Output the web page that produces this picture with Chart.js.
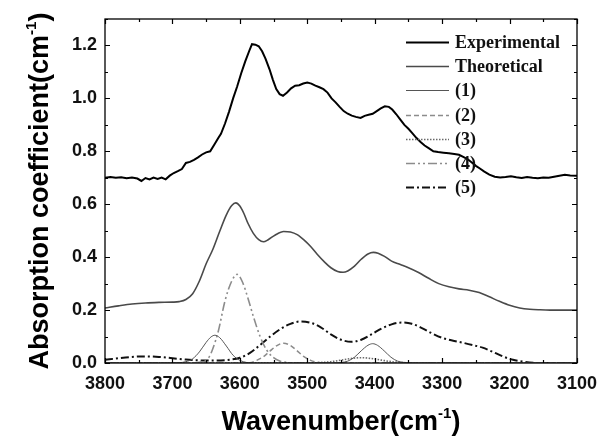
<!DOCTYPE html>
<html>
<head>
<meta charset="utf-8">
<script src="https://cdn.jsdelivr.net/npm/chart.js@4.4.1/dist/chart.umd.min.js"></script>
<style>
  html, body { margin: 0; padding: 0; background: #fff; }
</style>
</head>
<body>
<canvas id="irCanvas" width="612" height="436"></canvas>
<script>
// values (wavenumber in cm-1, absorption coefficient in cm-1)
const expWn = [3800, 3792, 3784, 3776, 3768, 3760, 3752, 3746, 3740, 3734, 3728, 3722, 3716, 3710, 3704, 3698,
  3692, 3686, 3680, 3674, 3668, 3662, 3656, 3650, 3644, 3638, 3632, 3628, 3622, 3616, 3610, 3604, 3598, 3592,
  3586, 3582, 3577, 3572, 3567, 3562, 3556, 3551, 3546, 3541, 3536, 3530, 3524, 3518, 3512, 3506, 3500, 3494,
  3488, 3482, 3476, 3470, 3464, 3458, 3452, 3446, 3440, 3434, 3428, 3421, 3415, 3409, 3403, 3397, 3391, 3385,
  3379, 3374, 3368, 3362, 3356, 3350, 3344, 3338, 3332, 3326, 3320, 3313, 3306, 3298, 3290, 3282, 3275, 3268,
  3262, 3256, 3250, 3244, 3238, 3230, 3222, 3214, 3206, 3198, 3190, 3182, 3174, 3166, 3158, 3150, 3142, 3134,
  3126, 3118, 3110, 3100];
const expAbs = [0.700, 0.703, 0.700, 0.702, 0.698, 0.701, 0.697, 0.688, 0.699, 0.694, 0.701, 0.696, 0.701, 0.694, 0.708, 0.718,
  0.725, 0.733, 0.756, 0.760, 0.768, 0.777, 0.788, 0.796, 0.800, 0.825, 0.850, 0.866, 0.905, 0.950, 1.000, 1.045, 1.095, 1.140,
  1.180, 1.205, 1.203, 1.197, 1.178, 1.150, 1.110, 1.070, 1.035, 1.016, 1.010, 1.022, 1.038, 1.048, 1.050, 1.056, 1.060, 1.056,
  1.048, 1.042, 1.035, 1.022, 1.000, 0.985, 0.968, 0.952, 0.942, 0.935, 0.930, 0.926, 0.934, 0.938, 0.942, 0.952, 0.962, 0.970,
  0.968, 0.958, 0.940, 0.920, 0.900, 0.885, 0.868, 0.850, 0.835, 0.822, 0.812, 0.800, 0.797, 0.795, 0.793, 0.790, 0.787, 0.778,
  0.770, 0.758, 0.745, 0.735, 0.724, 0.712, 0.704, 0.701, 0.703, 0.706, 0.702, 0.699, 0.703, 0.700, 0.698, 0.701, 0.700, 0.704,
  0.708, 0.711, 0.709, 0.708];

const theoWn = [3800, 3780, 3760, 3740, 3720, 3700, 3690, 3680, 3670, 3660, 3650, 3640, 3630, 3620, 3612, 3606,
  3600, 3594, 3588, 3580, 3572, 3565, 3558, 3548, 3535, 3525, 3515, 3505, 3495, 3485, 3475, 3465, 3455, 3447,
  3440, 3430, 3420, 3410, 3402, 3395, 3385, 3375, 3362, 3350, 3335, 3320, 3305, 3290, 3275, 3260, 3245, 3230,
  3215, 3200, 3185, 3170, 3155, 3140, 3120, 3100];
const theoAbs = [0.208, 0.216, 0.223, 0.227, 0.229, 0.230, 0.232, 0.240, 0.262, 0.310, 0.375, 0.430, 0.497, 0.560, 0.595, 0.605,
  0.593, 0.565, 0.528, 0.490, 0.466, 0.458, 0.466, 0.483, 0.497, 0.495, 0.485, 0.465, 0.440, 0.410, 0.383, 0.360, 0.346, 0.343,
  0.348, 0.366, 0.392, 0.412, 0.418, 0.415, 0.402, 0.385, 0.372, 0.360, 0.342, 0.320, 0.300, 0.288, 0.280, 0.275, 0.266, 0.250,
  0.233, 0.218, 0.208, 0.203, 0.201, 0.200, 0.200, 0.200];

const c1Wn = [3800, 3700, 3690, 3680, 3670, 3660, 3650, 3643, 3637, 3630, 3620, 3610, 3600, 3590, 3580,
  3460, 3450, 3440, 3430, 3420, 3410, 3403, 3396, 3386, 3376, 3366, 3356, 3345, 3100];
const c1Abs = [0, 0, 0.001, 0.005, 0.016, 0.042, 0.078, 0.098, 0.105, 0.096, 0.064, 0.029, 0.010, 0.002, 0,
  0, 0.002, 0.007, 0.022, 0.046, 0.067, 0.073, 0.067, 0.046, 0.022, 0.007, 0.002, 0, 0];

const c2Wn = [3800, 3590, 3585, 3575, 3565, 3555, 3545, 3535, 3525, 3515, 3505, 3495, 3485, 3475, 3100];
const c2Abs = [0, 0, 0.001, 0.010, 0.024, 0.046, 0.066, 0.075, 0.066, 0.046, 0.024, 0.010, 0.003, 0, 0];

const c3Wn = [3800, 3500, 3480, 3465, 3450, 3435, 3420, 3405, 3390, 3375, 3360, 3340, 3100];
const c3Abs = [0, 0, 0.002, 0.005, 0.011, 0.017, 0.020, 0.017, 0.011, 0.005, 0.002, 0, 0];

const c4Wn = [3800, 3670, 3660, 3650, 3645, 3640, 3632, 3622, 3612, 3604, 3596, 3588, 3580, 3570, 3560, 3550, 3540, 3530, 3520, 3100];
const c4Abs = [0, 0, 0.003, 0.012, 0.025, 0.055, 0.120, 0.235, 0.310, 0.335, 0.305, 0.245, 0.176, 0.100, 0.048, 0.020, 0.007, 0.002, 0, 0];

const c5Wn = [3800, 3780, 3760, 3740, 3720, 3700, 3680, 3660, 3640, 3620, 3600, 3585, 3570, 3555, 3540, 3525, 3510, 3495,
  3480, 3465, 3450, 3435, 3420, 3405, 3390, 3375, 3360, 3345, 3330, 3315, 3300, 3285, 3270, 3255, 3240, 3225, 3210,
  3195, 3180, 3165, 3150, 3100];
const c5Abs = [0.012, 0.018, 0.023, 0.025, 0.023, 0.018, 0.013, 0.010, 0.009, 0.011, 0.020, 0.038, 0.068, 0.100, 0.128, 0.148, 0.157, 0.152,
  0.135, 0.108, 0.088, 0.080, 0.088, 0.108, 0.130, 0.146, 0.153, 0.148, 0.132, 0.112, 0.095, 0.085, 0.077, 0.068, 0.058, 0.042, 0.025,
  0.012, 0.005, 0.001, 0, 0];

const seriesLabels = ["Experimental", "Theoretical", "(1)", "(2)", "(3)", "(4)", "(5)"];

const toPoints = (xs, ys) => xs.map((x, i) => ({ x: x, y: ys[i] }));
const sans = '"Liberation Sans", Arial, sans-serif';

// frame with inward ticks on all four sides
const framePlugin = {
  id: "frame",
  afterDatasetsDraw(chart) {
    const { ctx, chartArea: a, scales } = chart;
    ctx.save();
    ctx.strokeStyle = "#000";
    ctx.lineWidth = 1.3;
    ctx.strokeRect(a.left, a.top, a.right - a.left, a.bottom - a.top);
    ctx.lineWidth = 1.2;
    ctx.beginPath();
    for (let w = 3100; w <= 3800; w += 50) {
      const px = Math.round(scales.x.getPixelForValue(w)) + 0.5;
      const len = w % 100 === 0 ? 5 : 3;
      ctx.moveTo(px, a.bottom); ctx.lineTo(px, a.bottom - len);
      ctx.moveTo(px, a.top); ctx.lineTo(px, a.top + len);
    }
    for (let k = 0; k <= 13; k++) {
      const py = Math.round(scales.y.getPixelForValue(k / 10)) + 0.5;
      const len = k % 2 === 0 ? 5 : 3;
      ctx.moveTo(a.left, py); ctx.lineTo(a.left + len, py);
      ctx.moveTo(a.right, py); ctx.lineTo(a.right - len, py);
    }
    ctx.stroke();
    ctx.restore();
  }
};

// legend inside the plot, top right
const legendPlugin = {
  id: "insideLegend",
  afterDraw(chart) {
    const ctx = chart.ctx;
    const rows = [42, 66, 90, 115, 139, 163, 187];
    ctx.save();
    ctx.font = 'bold 18px "Liberation Serif", "Times New Roman", serif';
    ctx.textBaseline = "middle";
    ctx.fillStyle = "#111";
    chart.data.datasets.forEach((ds, i) => {
      const y = rows[i] + 0.5;
      ctx.strokeStyle = ds.borderColor;
      ctx.lineWidth = ds.borderWidth;
      ctx.setLineDash(ds.borderDash || []);
      ctx.beginPath();
      ctx.moveTo(406, y); ctx.lineTo(449, y);
      ctx.stroke();
      ctx.fillText(ds.label, 455, rows[i] + 1);
    });
    ctx.restore();
  }
};

function supTitle(ctx, x, y, rotate) {
  const main = "bold 27px " + sans, small = "bold 15px " + sans;
  ctx.save();
  ctx.translate(x, y);
  if (rotate) ctx.rotate(-Math.PI / 2);
  ctx.fillStyle = "#000";
  ctx.textBaseline = "alphabetic";
  const base = rotate ? "Absorption coefficient(cm" : "Wavenumber(cm";
  ctx.font = main;
  const w1 = ctx.measureText(base).width, w3 = ctx.measureText(")").width;
  ctx.font = small;
  const w2 = ctx.measureText("-1").width;
  const start = -(w1 + w2 + w3) / 2;
  ctx.font = main;
  ctx.fillText(base, start, 0);
  ctx.fillText(")", start + w1 + w2, 0);
  ctx.font = small;
  ctx.fillText("-1", start + w1, -12);
  ctx.restore();
}

const titlePlugin = {
  id: "axisTitles",
  afterDraw(chart) {
    const a = chart.chartArea;
    supTitle(chart.ctx, (a.left + a.right) / 2, 430, false);
    supTitle(chart.ctx, 48, (a.top + a.bottom) / 2, true);
  }
};

const irChart = new Chart(document.getElementById("irCanvas"), {
  type: "line",
  data: {
    datasets: [
      { label: seriesLabels[0], data: toPoints(expWn, expAbs), borderColor: "#000", borderWidth: 2, tension: 0 },
      { label: seriesLabels[1], data: toPoints(theoWn, theoAbs), borderColor: "#4a4a4a", borderWidth: 1.6, cubicInterpolationMode: "monotone" },
      { label: seriesLabels[2], data: toPoints(c1Wn, c1Abs), borderColor: "#555", borderWidth: 1, cubicInterpolationMode: "monotone" },
      { label: seriesLabels[3], data: toPoints(c2Wn, c2Abs), borderColor: "#8c8c8c", borderWidth: 1.5, borderDash: [5, 3], cubicInterpolationMode: "monotone" },
      { label: seriesLabels[4], data: toPoints(c3Wn, c3Abs), borderColor: "#6a6a6a", borderWidth: 1.6, borderDash: [1.5, 1.5], cubicInterpolationMode: "monotone" },
      { label: seriesLabels[5], data: toPoints(c4Wn, c4Abs), borderColor: "#8c8c8c", borderWidth: 1.6, borderDash: [9, 3, 2, 3, 2, 3], cubicInterpolationMode: "monotone" },
      { label: seriesLabels[6], data: toPoints(c5Wn, c5Abs), borderColor: "#111", borderWidth: 2, borderDash: [8, 3, 2, 3], cubicInterpolationMode: "monotone" }
    ]
  },
  options: {
    responsive: false,
    animation: false,
    elements: { point: { radius: 0 } },
    layout: { padding: { top: 19, right: 35, left: 0, bottom: 0 } },
    plugins: { legend: { display: false }, tooltip: { enabled: false } },
    scales: {
      x: {
        type: "linear",
        reverse: true,
        min: 3100,
        max: 3800,
        grid: { display: false, drawTicks: false },
        border: { display: false },
        ticks: {
          stepSize: 100,
          autoSkip: false,
          maxRotation: 0,
          padding: 10,
          color: "#111",
          font: { family: sans, weight: "bold", size: 18 },
          callback: v => String(v)
        },
        afterFit: s => { s.height = 73; }
      },
      y: {
        min: 0,
        max: 1.3,
        grid: { display: false, drawTicks: false },
        border: { display: false },
        ticks: {
          stepSize: 0.2,
          includeBounds: false,
          padding: 8,
          color: "#111",
          font: { family: sans, weight: "bold", size: 18 },
          callback: v => v.toFixed(1)
        },
        afterFit: s => { s.width = 105; }
      }
    }
  },
  plugins: [framePlugin, legendPlugin, titlePlugin]
});
</script>
</body>
</html>
